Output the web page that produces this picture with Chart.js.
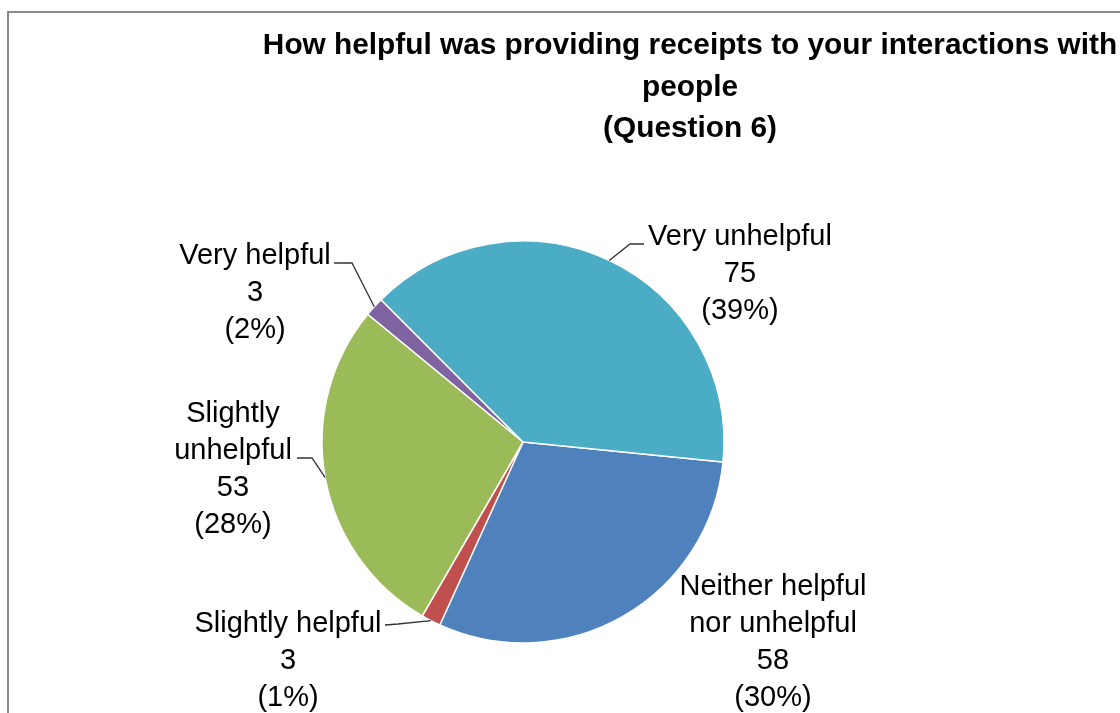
<!DOCTYPE html>
<html>
<head>
<meta charset="utf-8">
<script src="https://cdn.jsdelivr.net/npm/chart.js@4/dist/chart.umd.min.js"></script>
<style>
  html, body { margin: 0; padding: 0; background: #fff; }
  canvas { display: block; }
</style>
</head>
<body>
<canvas id="pie" width="1120" height="713"></canvas>
<script>
const titleLines = ['How helpful was providing receipts to your interactions with', 'people', '(Question 6)'];
const categories = ['Neither helpful nor unhelpful', 'Slightly helpful', 'Slightly unhelpful', 'Very helpful', 'Very unhelpful'];
const responses = [58, 3, 53, 3, 75];
const percentLabels = ['30%', '1%', '28%', '2%', '39%'];
const sliceColors = ['#4F81BD', '#C0504D', '#9BBB59', '#8064A2', '#4BACC6'];

// where each data label sits: centre x, first baseline, words on first line (0 = one line), leader points near the text
const labelLayout = [
    { x: 773, y: 595, wrap: 2, leader: null },
    { x: 288, y: 632, wrap: 0, leader: [[385, 625], [398, 624]] },
    { x: 233, y: 422, wrap: 1, leader: [[297, 458], [312, 458]] },
    { x: 255, y: 264, wrap: 0, leader: [[334, 263], [352, 263]] },
    { x: 740, y: 245, wrap: 0, leader: [[644, 244], [630, 244]] }
];

const labelFont = '29px "Liberation Sans", Arial, sans-serif';
const titleFont = 'bold 29.8px "Liberation Sans", Arial, sans-serif';
const lineGap = 37;

const framePlugin = {
    id: 'frame',
    beforeDraw(chart) {
        const ctx = chart.ctx;
        ctx.save();
        ctx.fillStyle = '#fff';
        ctx.fillRect(0, 0, chart.width, chart.height);
        ctx.strokeStyle = '#898989';
        ctx.lineWidth = 2;
        ctx.beginPath();
        ctx.moveTo(8, chart.height + 5);
        ctx.lineTo(8, 12);
        ctx.lineTo(chart.width + 5, 12);
        ctx.stroke();
        ctx.restore();
    }
};

const labelsPlugin = {
    id: 'pieLabels',
    afterDraw(chart) {
        const ctx = chart.ctx;
        ctx.save();

        // title
        ctx.fillStyle = '#000';
        ctx.font = titleFont;
        ctx.textAlign = 'center';
        ctx.textBaseline = 'alphabetic';
        titleLines.forEach((line, i) => ctx.fillText(line, 690, 54 + i * 41.5));

        // data labels with leader lines
        const arcs = chart.getDatasetMeta(0).data;
        ctx.font = labelFont;
        arcs.forEach((arc, i) => {
            const spot = labelLayout[i];
            const words = categories[i].split(' ');
            let lines = spot.wrap ? [words.slice(0, spot.wrap).join(' '), words.slice(spot.wrap).join(' ')] : [categories[i]];
            lines = lines.concat([String(responses[i]), '(' + percentLabels[i] + ')']);
            lines.forEach((line, j) => ctx.fillText(line, spot.x, spot.y + j * lineGap));

            if (spot.leader) {
                const p = arc.getProps(['x', 'y', 'startAngle', 'endAngle', 'outerRadius'], true);
                const mid = (p.startAngle + p.endAngle) / 2;
                ctx.strokeStyle = '#333';
                ctx.lineWidth = 1.3;
                ctx.beginPath();
                ctx.moveTo(spot.leader[0][0], spot.leader[0][1]);
                spot.leader.slice(1).forEach(pt => ctx.lineTo(pt[0], pt[1]));
                ctx.lineTo(p.x + Math.cos(mid) * p.outerRadius, p.y + Math.sin(mid) * p.outerRadius);
                ctx.stroke();
            }
        });
        ctx.restore();
    }
};

new Chart(document.getElementById('pie'), {
    type: 'pie',
    data: {
        labels: categories,
        datasets: [{
            data: responses,
            backgroundColor: sliceColors,
            borderColor: '#fff',
            borderWidth: 1.5
        }]
    },
    options: {
        responsive: false,
        animation: false,
        rotation: 95.7,
        radius: 201,
        layout: { padding: { left: 300, right: 374, top: 221, bottom: 50 } },
        plugins: {
            legend: { display: false },
            tooltip: { enabled: false },
            title: { display: false }
        }
    },
    plugins: [framePlugin, labelsPlugin]
});
</script>
</body>
</html>
